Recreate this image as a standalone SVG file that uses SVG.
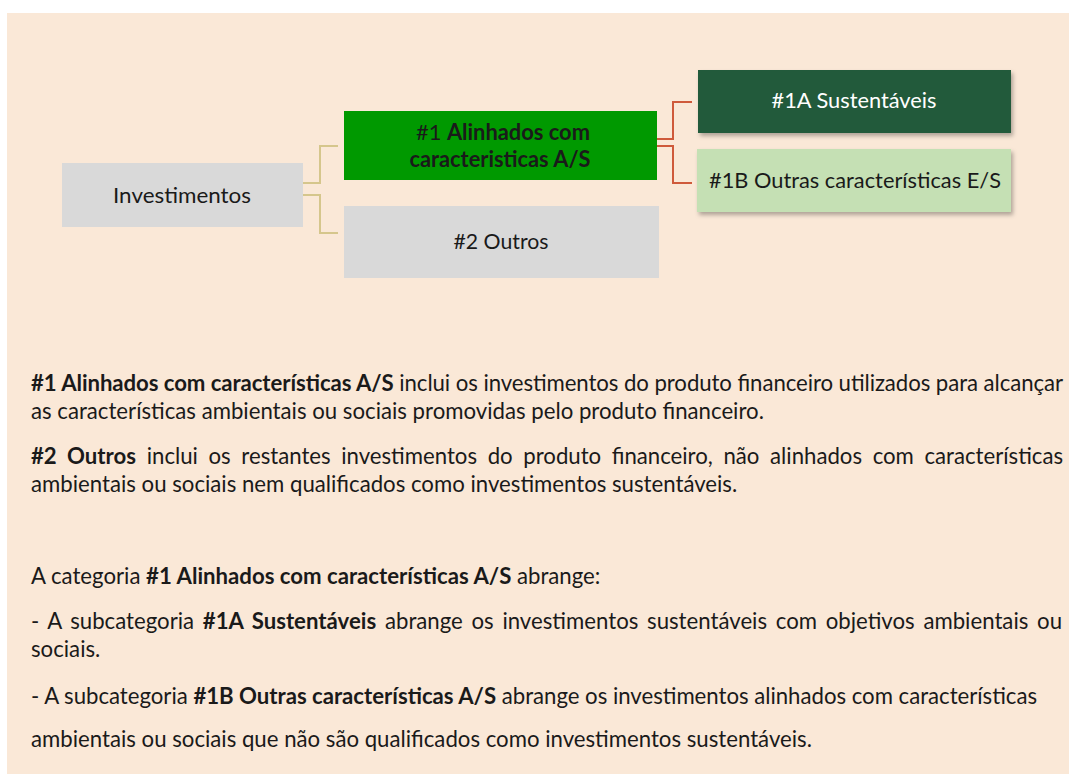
<svg xmlns="http://www.w3.org/2000/svg" width="1069" height="774" viewBox="0 0 1069 774">
<defs>
<style>
text{font-family:Lato,"Open Sans","Liberation Sans",sans-serif;fill:#1a1a1a}
.n{font-size:22px;text-anchor:middle}
.b{font-weight:bold}
.p{font-size:22.2px}
.ck{fill:none;stroke:#D5C68C;stroke-width:2}
.cr{fill:none;stroke:#CF5A3B;stroke-width:2}
</style>
<filter id="sh" x="-5%" y="-10%" width="115%" height="130%">
<feDropShadow dx="2" dy="3" stdDeviation="2" flood-color="#000" flood-opacity="0.3"/>
</filter>
</defs>
<rect x="0" y="0" width="1069" height="774" fill="#ffffff"/>
<rect x="7" y="13" width="1062" height="761" fill="#FAE8D7"/>
<g id="connectors">
<path class="ck" d="M303,183 H320 V146 H338"/>
<path class="ck" d="M303,195 H320 V233 H338"/>
<path class="cr" d="M657,139 H673 V102 H692"/>
<path class="cr" d="M657,146 H673 V183 H692"/>
</g>
<g id="investimentos">
<rect x="62" y="163" width="241" height="64" fill="#D9D9D9"/>
<text class="n" x="182" y="203" textLength="138" lengthAdjust="spacingAndGlyphs">Investimentos</text>
</g>
<g id="n1">
<rect x="344" y="111" width="313" height="69" fill="#009900"/>
<text class="n" x="503" y="140" textLength="174" lengthAdjust="spacingAndGlyphs">#1 <tspan class="b">Alinhados com</tspan></text>
<text class="n b" x="500" y="167" textLength="181" lengthAdjust="spacingAndGlyphs">caracteristicas A/S</text>
</g>
<g id="n2">
<rect x="344" y="206" width="315" height="72" fill="#D9D9D9"/>
<text class="n" x="501" y="249" textLength="95" lengthAdjust="spacingAndGlyphs">#2 Outros</text>
</g>
<g id="n1a">
<rect x="698" y="70" width="313" height="63" fill="#245A3A" filter="url(#sh)"/>
<text class="n" x="854" y="108" style="fill:#ffffff" textLength="165" lengthAdjust="spacingAndGlyphs">#1A Sustentáveis</text>
</g>
<g id="n1b">
<rect x="697" y="149" width="314" height="63" fill="#C5E0B4" filter="url(#sh)"/>
<text class="n" x="855" y="188" textLength="292" lengthAdjust="spacingAndGlyphs">#1B Outras características E/S</text>
</g>
<g id="body">
<text class="p" x="31" y="391" textLength="1032" lengthAdjust="spacing"><tspan class="b">#1 Alinhados com características A/S</tspan> inclui os investimentos do produto financeiro utilizados para alcançar</text>
<text class="p" x="31" y="419">as características ambientais ou sociais promovidas pelo produto financeiro.</text>
<text class="p" x="31" y="464" word-spacing="5" textLength="1032" lengthAdjust="spacing"><tspan class="b">#2 Outros</tspan> inclui os restantes investimentos do produto financeiro, não alinhados com características</text>
<text class="p" x="31" y="492">ambientais ou sociais nem qualificados como investimentos sustentáveis.</text>
<text class="p" x="31" y="584">A categoria <tspan class="b">#1 Alinhados com características A/S</tspan> abrange:</text>
<text class="p" x="31" y="629" word-spacing="3" textLength="1031" lengthAdjust="spacing">- A subcategoria <tspan class="b">#1A Sustentáveis</tspan> abrange os investimentos sustentáveis com objetivos ambientais ou</text>
<text class="p" x="31" y="657">sociais.</text>
<text class="p" x="31" y="704" textLength="1006" lengthAdjust="spacing">- A subcategoria <tspan class="b">#1B Outras características A/S</tspan> abrange os investimentos alinhados com características</text>
<text class="p" x="31" y="747">ambientais ou sociais que não são qualificados como investimentos sustentáveis.</text>
</g>
</svg>
